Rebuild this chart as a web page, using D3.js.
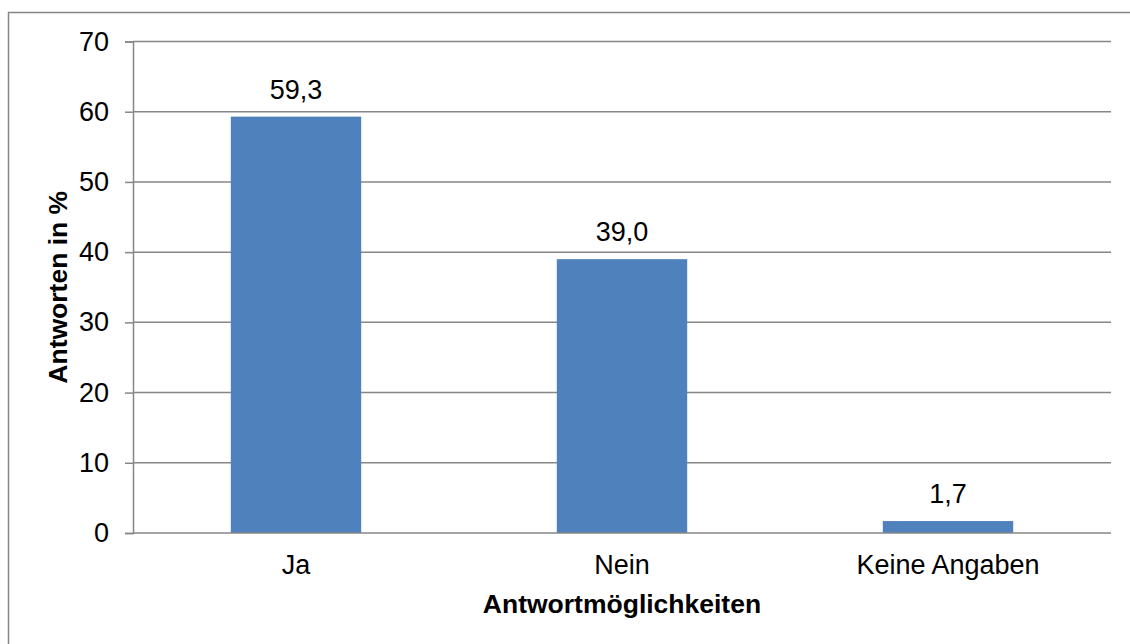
<!DOCTYPE html>
<html>
<head>
<meta charset="utf-8">
<script src="https://cdn.jsdelivr.net/npm/d3@7"></script>
<style>
  body { margin: 0; background: #fff; }
  svg { display: block; font-family: "Liberation Sans", Arial, sans-serif; }
</style>
</head>
<body>
<div id="chart"></div>
<script>
const categories = ['Ja', 'Nein', 'Keine Angaben'];
const values = [59.3, 39.0, 1.7];
const yTicks = [0, 10, 20, 30, 40, 50, 60, 70];

const width = 1130, height = 644;
const margin = { top: 41.5, right: 19, bottom: 111, left: 133 };
const fontSize = '27px';

const svg = d3.select('#chart')
  .append('svg')
  .attr('width', width)
  .attr('height', height);

// outer frame
svg.append('rect')
  .attr('x', 8.5)
  .attr('y', 12.5)
  .attr('width', 1200)
  .attr('height', 700)
  .attr('fill', 'none')
  .attr('stroke', '#868686')
  .attr('stroke-width', 1.5);

const x = d3.scaleBand()
  .domain(categories)
  .range([margin.left, width - margin.right])
  .paddingInner(0.6)
  .paddingOuter(0.3);

const y = d3.scaleLinear()
  .domain([0, 70])
  .range([height - margin.bottom, margin.top]);

// gridlines
svg.selectAll('.grid')
  .data(yTicks.filter(d => d > 0))
  .enter()
  .append('line')
  .attr('class', 'grid')
  .attr('x1', margin.left)
  .attr('x2', width - margin.right)
  .attr('y1', d => y(d))
  .attr('y2', d => y(d))
  .attr('stroke', '#868686')
  .attr('stroke-width', 1.5);

// bars
svg.selectAll('.bar')
  .data(values)
  .enter()
  .append('rect')
  .attr('class', 'bar')
  .attr('x', (d, i) => x(categories[i]))
  .attr('y', d => y(d))
  .attr('width', x.bandwidth())
  .attr('height', d => y(0) - y(d))
  .attr('fill', '#4f81bd');

// value labels
svg.selectAll('.valueLabel')
  .data(values)
  .enter()
  .append('text')
  .attr('class', 'valueLabel')
  .attr('x', (d, i) => x(categories[i]) + x.bandwidth() / 2)
  .attr('y', d => y(d) - 18)
  .attr('text-anchor', 'middle')
  .style('font-size', fontSize)
  .text(d => d.toFixed(1).replace('.', ','));

// y axis
const yAxis = svg.append('g')
  .attr('transform', `translate(${margin.left},0)`)
  .call(d3.axisLeft(y).tickValues(yTicks).tickSize(8).tickPadding(16));
yAxis.select('.domain').attr('stroke', '#868686').attr('stroke-width', 1.5);
yAxis.selectAll('.tick line').attr('stroke', '#868686').attr('stroke-width', 1.5);
yAxis.selectAll('.tick text')
  .attr('fill', '#000')
  .style('font-size', fontSize)
  .style('font-family', '"Liberation Sans", Arial, sans-serif');

// x axis
const xAxis = svg.append('g')
  .attr('transform', `translate(0,${y(0)})`)
  .call(d3.axisBottom(x).tickSize(0).tickPadding(22));
xAxis.select('.domain')
  .attr('stroke', '#868686')
  .attr('stroke-width', 1.5)
  .attr('d', `M${margin.left},0H${width - margin.right}`);
xAxis.selectAll('.tick text')
  .attr('fill', '#000')
  .style('font-size', fontSize)
  .style('font-family', '"Liberation Sans", Arial, sans-serif');

// axis titles
svg.append('text')
  .attr('x', (margin.left + width - margin.right) / 2)
  .attr('y', 613)
  .attr('text-anchor', 'middle')
  .style('font-size', '26.5px')
  .style('font-weight', 'bold')
  .text('Antwortmöglichkeiten');

svg.append('text')
  .attr('transform', `translate(67,${(y(0) + y(70)) / 2}) rotate(-90)`)
  .attr('text-anchor', 'middle')
  .style('font-size', '26.5px')
  .style('font-weight', 'bold')
  .text('Antworten in %');
</script>
</body>
</html>
